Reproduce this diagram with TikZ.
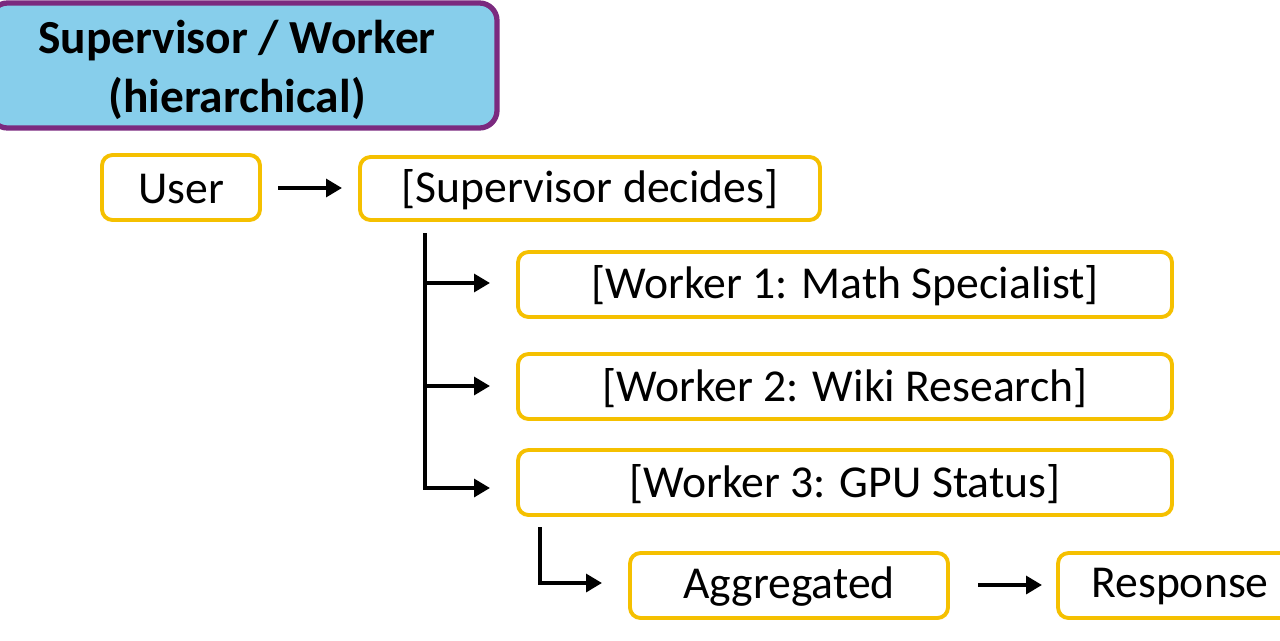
\documentclass[tikz,border=0pt]{standalone}
\usepackage{fontspec}
\setmainfont{Carlito}
\usetikzlibrary{arrows.meta}
\definecolor{bx}{HTML}{F5C000}
\definecolor{tf}{HTML}{87CEEB}
\definecolor{tb}{HTML}{7B2A7F}
\begin{document}
\begin{tikzpicture}[x=0.02cm,y=-0.02cm,
 box/.style={draw=bx,line width=2.2pt,rounded corners=6pt,fill=white},
 lbl/.style={font=\fontsize{26}{30}\selectfont},
 arr/.style={line width=2.2pt,-{Triangle[length=9pt,width=10pt]}}]
\useasboundingbox (0,0) rectangle (1280,640);
\draw[draw=tb,fill=tf,line width=3pt,rounded corners=10pt] (-10,3) rectangle (497,128);
\node[font=\bfseries\fontsize{27}{34}\selectfont,align=center] (tt) at (237,70) {Supervisor / Worker\\(hierarchical)};
\draw[box] (102,155) rectangle (260,220); \node[lbl] (user) at (181,189) {User};
\draw[box] (360,157) rectangle (820,220); \node[lbl] (sup) at (590,190) {[Supervisor decides]};
\draw[box] (518,252) rectangle (1172,317); \node[lbl] (w1) at (845,286) {[Worker 1: Math Specialist]};
\draw[box] (518,354) rectangle (1172,419); \node[lbl] (w2) at (845,388) {[Worker 2: Wiki Research]};
\draw[box] (518,450) rectangle (1172,515); \node[lbl] (w3) at (845,484) {[Worker 3: GPU Status]};
\draw[box] (630,553) rectangle (948,618); \node[lbl] (agg) at (789,587) {Aggregated};
\draw[box] (1058,553) rectangle (1295,618); \node[lbl] (resp) at (1180,587) {Response};
\coordinate (a1) at (278,188); \coordinate (a2) at (342,188);
\draw[arr] (a1) -- (a2);
\coordinate (v0) at (425,233); \coordinate (v1) at (425,283); \coordinate (v2) at (425,386); \coordinate (v3) at (425,488);
\coordinate (e1) at (490,283); \coordinate (e2) at (490,386); \coordinate (e3) at (490,488);
\draw[line width=2.2pt] (v0) -- (v3);
\draw[arr] (v1) -- (e1); \draw[arr] (v2) -- (e2); \draw[arr] ([xshift=-1.1pt]v3) -- (e3);
\coordinate (u0) at (540,527); \coordinate (u1) at (540,583); \coordinate (u2) at (602,583);
\draw[arr] (u0) -- (u1) -- (u2);
\coordinate (b1) at (978,585); \coordinate (b2) at (1042,585);
\draw[arr] (b1) -- (b2);
\end{tikzpicture}
\end{document}
